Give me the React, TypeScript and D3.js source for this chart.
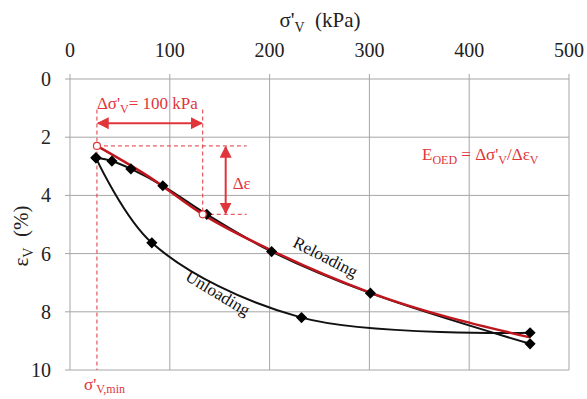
import * as d3 from "d3";

type Pt = { s: number; e: number };

const xTicks = [0, 100, 200, 300, 400, 500];
const yTicks = [0, 2, 4, 6, 8, 10];

const reloading: Pt[] = [
  { s: 26, e: 2.71 },
  { s: 42, e: 2.82 },
  { s: 61, e: 3.09 },
  { s: 93, e: 3.67 },
  { s: 137, e: 4.65 },
  { s: 202, e: 5.93 },
  { s: 301, e: 7.36 },
  { s: 461, e: 9.1 },
];

const unloading: Pt[] = [
  { s: 461, e: 8.72 },
  { s: 232, e: 8.2 },
  { s: 82, e: 5.63 },
  { s: 26, e: 2.71 },
];

const fitLine: Pt[] = [
  { s: 27, e: 2.3 },
  { s: 80, e: 3.38 },
  { s: 133, e: 4.65 },
  { s: 200, e: 5.86 },
  { s: 300, e: 7.33 },
  { s: 461, e: 8.88 },
];

const sigmaMin = 27;
const sigmaRef = 133;
const epsMin = 2.3;
const epsRef = 4.65;

export default function App() {
  const width = 587;
  const height = 399;
  const margin = { top: 79, right: 18, bottom: 29, left: 70 };
  const x = d3.scaleLinear().domain([0, 500]).range([margin.left, width - margin.right]);
  const y = d3.scaleLinear().domain([0, 10]).range([margin.top, height - margin.bottom]);

  const smooth = d3
    .line<Pt>()
    .x((d) => x(d.s))
    .y((d) => y(d.e))
    .curve(d3.curveCatmullRom.alpha(0.5));
  const fit = d3
    .line<Pt>()
    .x((d) => x(d.s))
    .y((d) => y(d.e))
    .curve(d3.curveMonotoneX);

  const diamond = d3.symbol().type(d3.symbolSquare).size(62)();
  const red = "#C0161E";
  const ann = "#E0353B";
  const grid = "#A6A6A6";
  const font = '"Times New Roman", "Liberation Serif", "DejaVu Serif", Times, serif';

  const arrowY = y(1.52);
  const arrowX = x(156);
  const dashEnd = x(177);

  return (
    <div style={{ position: "absolute", left: 0, top: 0, fontFamily: font }}>
      <svg width={width} height={height} viewBox={`0 0 ${width} ${height}`} style={{ display: "block" }}>
        <rect width={width} height={height} fill="#fff" />
        <defs>
          <marker id="ah" viewBox="0 0 10 10" refX="9" refY="5" markerWidth="6" markerHeight="6" orient="auto-start-reverse">
            <path d="M0,0 L10,5 L0,10 z" fill={ann} />
          </marker>
        </defs>

        <g style={{ fontFamily: font }}>
          {xTicks.map((t) => (
            <g key={`x${t}`}>
              <line x1={x(t)} x2={x(t)} y1={y(0) - 5} y2={y(10)} stroke={grid} strokeWidth={1} />
              <text x={x(t)} y={57} textAnchor="middle" fontSize={20} fill="#222">
                {t}
              </text>
            </g>
          ))}
          {yTicks.map((t) => (
            <g key={`y${t}`}>
              <line x1={x(0) - 5} x2={x(500)} y1={y(t)} y2={y(t)} stroke={grid} strokeWidth={1} />
              <text x={51} y={y(t)} textAnchor="end" dominantBaseline="central" fontSize={20} fill="#222">
                {t}
              </text>
            </g>
          ))}

          <text x={320} y={27} textAnchor="middle" fontSize={21} fill="#222">
            σ'<tspan fontSize={14} dy={5}>V</tspan>
            <tspan dy={-5}>{"\u00a0 (kPa)"}</tspan>
          </text>
          <text transform="translate(28,236) rotate(-90)" textAnchor="middle" fontSize={21} fill="#222">
            ε<tspan fontSize={14} dy={5}>V</tspan>
            <tspan dy={-5}>{"\u00a0 (%)"}</tspan>
          </text>

          {/* construction lines */}
          <g stroke={ann} strokeWidth={1} strokeDasharray="4 3" fill="none">
            <line x1={x(sigmaMin)} x2={x(sigmaMin)} y1={y(1.05)} y2={y(10)} />
            <line x1={x(sigmaRef)} x2={x(sigmaRef)} y1={y(1.05)} y2={y(epsRef)} />
            <line x1={x(sigmaMin)} x2={dashEnd} y1={y(epsMin)} y2={y(epsMin)} />
            <line x1={x(sigmaRef)} x2={dashEnd} y1={y(epsRef)} y2={y(epsRef)} />
          </g>
          <line
            x1={x(sigmaMin) + 1}
            x2={x(sigmaRef) - 1}
            y1={arrowY}
            y2={arrowY}
            stroke={ann}
            strokeWidth={2}
            markerStart="url(#ah)"
            markerEnd="url(#ah)"
          />
          <line
            x1={arrowX}
            x2={arrowX}
            y1={y(epsMin) + 1}
            y2={y(epsRef) - 1}
            stroke={ann}
            strokeWidth={2}
            markerStart="url(#ah)"
            markerEnd="url(#ah)"
          />

          <path d={smooth(unloading) ?? ""} fill="none" stroke="#111" strokeWidth={2} />
          <path d={smooth(reloading) ?? ""} fill="none" stroke="#111" strokeWidth={2} />
          <path d={fit(fitLine) ?? ""} fill="none" stroke={red} strokeWidth={2.5} />

          {[...reloading, ...unloading].map((d, i) => (
            <path key={i} d={diamond ?? ""} transform={`translate(${x(d.s)},${y(d.e)}) rotate(45)`} fill="#000" />
          ))}

          {[
            { s: sigmaMin, e: epsMin },
            { s: sigmaRef, e: epsRef },
          ].map((d, i) => (
            <circle key={i} cx={x(d.s)} cy={y(d.e)} r={3.5} fill="#fff" stroke={ann} strokeWidth={1.2} />
          ))}

          <text x={x(sigmaMin)} y={109} fontSize={17} fill={ann}>
            Δσ'<tspan fontSize={12} dy={4}>V</tspan>
            <tspan dy={-4}>= 100 kPa</tspan>
          </text>
          <text x={arrowX + 7} y={189} fontSize={17} fill={ann}>
            Δε
          </text>
          <text x={422} y={160} fontSize={17} fill={ann}>
            E<tspan fontSize={12} dy={4}>OED</tspan>
            <tspan dy={-4}> = Δσ'</tspan>
            <tspan fontSize={12} dy={4}>V</tspan>
            <tspan dy={-4}>/Δε</tspan>
            <tspan fontSize={12} dy={4}>V</tspan>
          </text>
          <text x={84} y={390} fontSize={17} fill={ann}>
            σ'<tspan fontSize={12} dy={3}>V,min</tspan>
          </text>

          <text transform="translate(323,262) rotate(27)" textAnchor="middle" fontSize={17} fill="#111">
            Reloading
          </text>
          <text transform="translate(215,298) rotate(31)" textAnchor="middle" fontSize={17} fill="#111">
            Unloading
          </text>
        </g>
      </svg>
    </div>
  );
}
